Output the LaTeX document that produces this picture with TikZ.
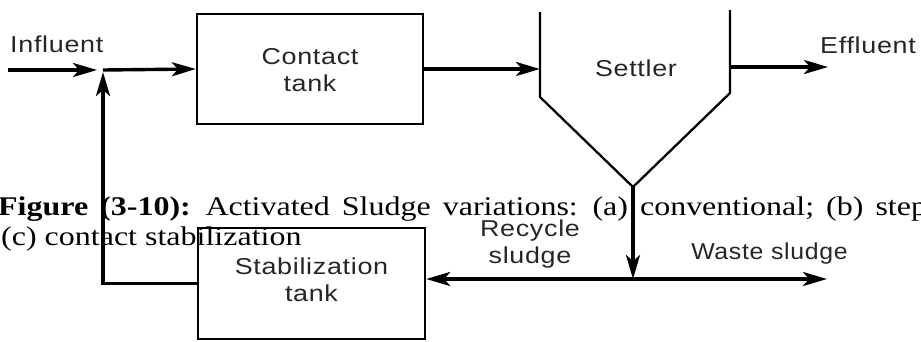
\documentclass[tikz,border=0pt]{standalone}
\usepackage{fontspec}
\usetikzlibrary{arrows.meta}
\newfontfamily\labelfont{Liberation Sans}[FakeStretch=1.17, LetterSpace=3]
\newfontfamily\wastefont{Liberation Sans}[FakeStretch=1.08, LetterSpace=3]
\newfontfamily\captionfont{Liberation Serif}[FakeStretch=1.185]
\newcommand\lblfont{\labelfont\fontsize{23pt}{27pt}\selectfont}
\newcommand\capfont{\captionfont\fontsize{27pt}{30pt}\selectfont}
\definecolor{lbltext}{gray}{0.15}

\begin{document}
\begin{tikzpicture}[x=1pt, y=-1pt,
  tank/.style={draw, line width=2.3pt, minimum width=226pt, minimum height=110pt, inner sep=0pt},
  flow/.style={line width=3.4pt, -{Stealth[length=24pt, width=14pt, inset=6pt]}},
  wall/.style={line width=2.3pt, line join=miter},
  lbl/.style={inner sep=0pt, font=\lblfont, text=lbltext},
  captext/.style={inner sep=0pt, anchor=base west, font=\capfont}]
  \useasboundingbox (0,0) rectangle (921,341);

  % process units
  \node[tank] (contact) at (310,69) {};
  \node[tank, minimum width=227pt, minimum height=111pt] (stab) at (311.5,283.5) {};
  \node[lbl, align=center] (contacttxt) at (310,70) {Contact\\tank};
  \node[lbl, align=center] (stabtxt) at (311.5,280) {Stabilization\\tank};

  % settler outline
  \coordinate (sTL) at (540,12);
  \coordinate (sBL) at (540,97);
  \coordinate (sV)  at (633,187);
  \coordinate (sBR) at (730,93);
  \coordinate (sTR) at (730,10);
  \draw[wall] (sTL) -- (sBL) -- (sV) -- (sBR) -- (sTR);
  \node[lbl, anchor=base] (settler) at (636,76) {Settler};

  % flow points
  \coordinate (in)     at (8,70);
  \coordinate (J1)     at (103,70);
  \coordinate (inlet)  at (540,69);
  \coordinate (outlet) at (730,67);
  \coordinate (eff)    at (828,67);
  \coordinate (J2)     at (633,279);
  \coordinate (waste)  at (827,279);

  % flows
  \draw[flow, shorten >=6pt] (in) -- (J1);
  \draw[flow] (J1) -- (contact.west);
  \draw[flow, shorten >=2pt] (stab.west) -| (J1);
  \draw[flow] (contact.east) -- (inlet);
  \draw[flow] (outlet) -- (eff);
  \draw[flow] (sV) -- (J2);
  \draw[flow] (J2) -- (stab.east |- J2);
  \draw[flow] (J2) -- (waste);

  % stream labels
  \node[lbl, anchor=base west] (influent) at (10,52) {Influent};
  \node[lbl, anchor=base west] (effluent) at (820,53) {Effluent};
  \node[lbl, align=center] (recycle) at (530,244.5) {Recycle\\sludge};
  \node[lbl, anchor=base] (wastetxt) at (769.5,259) {\wastefont Waste sludge};

  % caption
  \node[captext] (capA) at (-2,215) {\spaceskip=12pt\relax{\bfseries Figure (3-10):} Activated Sludge variations: (a) conventional; (b) step};
  \node[captext] (capB) at (1,245) {(c) contact stabilization};
\end{tikzpicture}
\end{document}
